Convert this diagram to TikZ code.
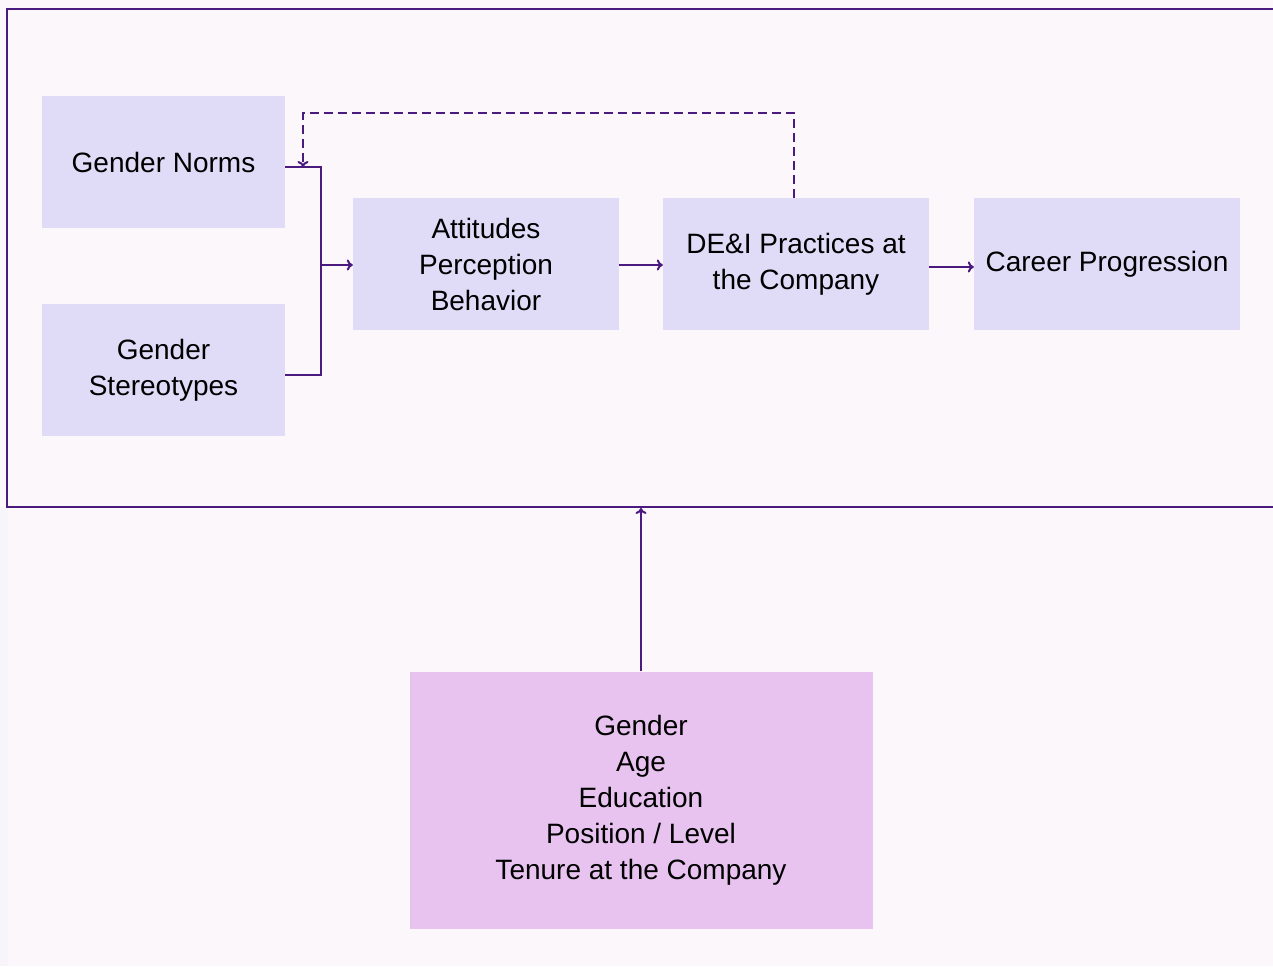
\documentclass[tikz,border=0pt]{standalone}
\usepackage{fontspec}
\setmainfont{Liberation Sans}
\usetikzlibrary{arrows.meta}

\definecolor{pagebg}{HTML}{FCF7FB}
\definecolor{stripbg}{HTML}{F7F5FA}
\definecolor{framecol}{HTML}{4A1A7E}
\definecolor{boxcol}{HTML}{E0DCF8}
\definecolor{ctrlcol}{HTML}{E8C3F0}

\tikzset{
  factor/.style={fill=boxcol, inner sep=0pt, minimum width=266pt, minimum height=132pt,
    align=center, font=\fontsize{28}{36}\selectfont},
  control/.style={fill=ctrlcol, inner sep=0pt, minimum width=463pt, minimum height=257pt,
    align=center, font=\fontsize{28}{36}\selectfont},
  link/.style={draw=framecol, line width=2pt, -{To[length=6pt,width=11pt]}},
}

\begin{document}
\begin{tikzpicture} [x=1pt, y=-1pt]
  \useasboundingbox (0,0) rectangle (1273,966);
  \fill [pagebg] (0,0) rectangle (1273,966);
  \fill [stripbg] (0,507) rectangle (8,966);
  \draw [framecol, line width=2.8pt] (1280,9) -- (7,9) -- (7,507) -- (1280,507);

  \path  (163.5,162)   node[factor, minimum width=243pt, minimum height=132pt](norms)  {Gender Norms}
          (163.5,370)   node[factor, minimum width=243pt](stereo) {Gender\\Stereotypes}
          (486,264)   node[factor](attitudes) {Attitudes\\Perception\\Behavior}
          (796,264)   node[factor](dei) {DE\&I Practices at\\the Company}
          (1107,264)   node[factor](career) {Career Progression}
          (641,800)   node[control](ctrl) {Gender\\Age\\Education\\Position / Level\\Tenure at the Company};
    \coordinate (join) at (321,265);
    \coordinate (frameb) at (641,508);

    \draw [link, -] (norms.east |- 0,167) -| (join);
    \draw [link, -] (stereo.east |- 0,375) -| (join);
    \draw [link] (join) -- (attitudes.west |- join);
    \draw [link] (attitudes.east |- join) -- (dei.west |- join);
    \draw [link] (dei.east |- 0,267) -- (career.west |- 0,267);
    \draw [link, dashed, dash pattern=on 9pt off 5pt] (dei.north -| 794,0) -- (794,113) -- (303,113) -- (303,167);
    \draw [link] (ctrl.north) -- (frameb);

\end{tikzpicture}
\end{document}
